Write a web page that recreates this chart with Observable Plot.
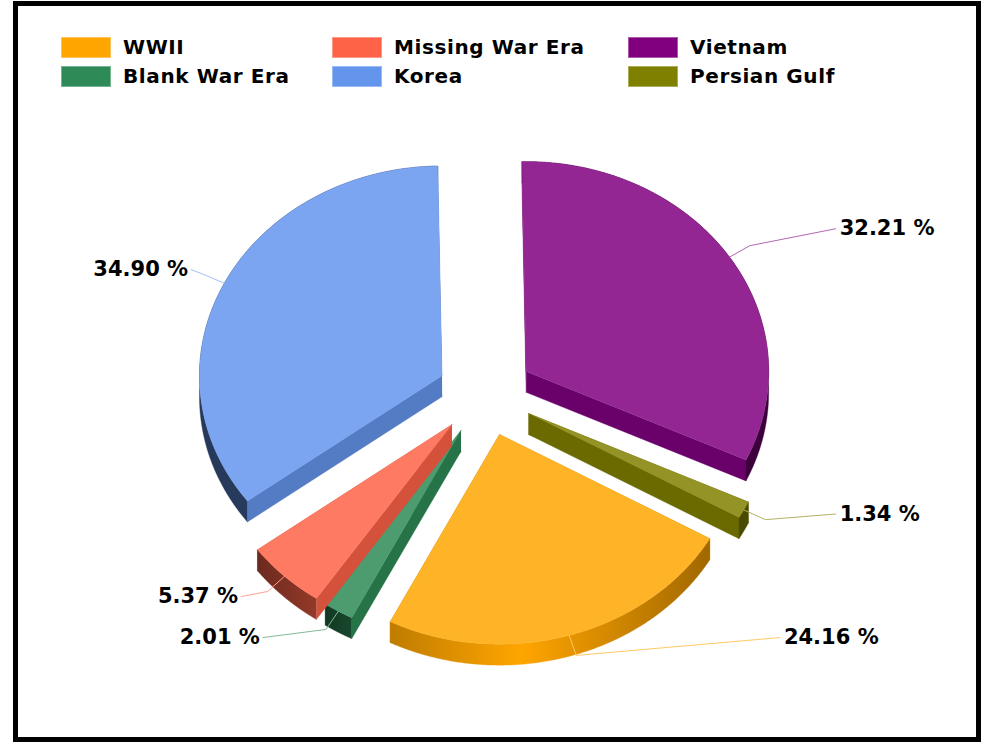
<!DOCTYPE html>
<html>
<head>
<meta charset="utf-8">
<script src="https://cdn.jsdelivr.net/npm/d3@7"></script>
<script src="https://cdn.jsdelivr.net/npm/@observablehq/plot@0.6"></script>
<style>
  html, body { margin: 0; padding: 0; background: #fff; }
  #frame { position: absolute; left: 13px; top: 1px; width: 968px; height: 741px; box-sizing: border-box;
           border: 5px solid #000; background: #fff; font-family: "DejaVu Sans", sans-serif; overflow: hidden; }
  #legend { display: grid; grid-template-columns: 271px 296px 300px; grid-auto-rows: 29px; grid-auto-flow: column;
            grid-template-rows: 29px 29px; padding: 31px 0 0 43px; height: 63px; box-sizing: content-box;
            font-size: 20px; font-weight: bold; color: #000; letter-spacing: 0.6px; }
  .item { display: flex; align-items: flex-start; }
  .item i { display: block; width: 50px; height: 21px; margin-right: 12px; box-sizing: border-box; border: 1px solid rgba(255,255,255,.35); }
  .item span { line-height: 21px; }
  svg { display: block; }
</style>
</head>
<body>
<div id="frame"><div id="legend"></div><div id="chart"></div></div>
<script>
// Data, clockwise from 12 o'clock
const categories = ["Vietnam", "Persian Gulf", "WWII", "Blank War Era", "Missing War Era", "Korea"];
const percents   = [32.21, 1.34, 24.16, 2.01, 5.37, 34.90];
const baseColors = ["#800080", "#808000", "#ffa500", "#2e8b57", "#ff6347", "#6495ed"];
const legendOrder = ["WWII", "Blank War Era", "Missing War Era", "Korea", "Vietnam", "Persian Gulf"];
// Where each percentage label sits, in pie-radius units
const labelX = [1.444, 1.444, 1.214, -0.918, -1.008, -1.214];
const labelY = [0.789, -0.571, -1.16, -1.16, -0.965, 0.594];
// Shading of the outer rim, as brightness factors left to right
const rimShades = [[.48, .48], [.58, .58], [.75, 1, .63], [.4, .52], [.42, .58], [.38, .44]];
const rimStops  = [[0, 1], [0, 1], [0, .41, 1], [0, 1], [0, 1], [0, 1]];

const explode = 0.2, depth = 0.1, startAngle = -1 * Math.PI / 180;
const shade = (c, k) => { const r = d3.rgb(c); return d3.rgb(r.r * k, r.g * k, r.b * k).formatHex(); };
const total = d3.sum(percents);
let cum = 0;
const slices = categories.map((name, i) => {
  const a0 = startAngle + cum / total * 2 * Math.PI; cum += percents[i];
  const a1 = startAngle + cum / total * 2 * Math.PI, mid = (a0 + a1) / 2;
  return {name, i, value: percents[i], a0, a1, mid, base: baseColors[i],
          cx: explode * Math.sin(mid), cy: explode * Math.cos(mid)};
});
const on = (s, a, r = 1, dy = 0) => ({x: s.cx + r * Math.sin(a), y: s.cy + r * Math.cos(a) + dy});
const arc = (s, dy) => d3.range(0, 241).map(t => on(s, s.a0 + (s.a1 - s.a0) * t / 240, 1, dy));
const topFace = s => [{x: s.cx, y: s.cy}, ...arc(s, 0)];
const wall = (s, a) => [{x: s.cx, y: s.cy}, on(s, a), on(s, a, 1, -depth), {x: s.cx, y: s.cy - depth}];
const rim = s => [...arc(s, 0), ...arc(s, -depth).reverse()];

d3.select("#legend").selectAll("div").data(legendOrder).join("div").attr("class", "item")
  .html(d => `<i style="background:${baseColors[categories.indexOf(d)]}"></i><span>${d}</span>`);

const face = (pts, fill) => Plot.line(pts, {x: "x", y: "y", fill, stroke: fill, strokeWidth: 0.4});
const gradients = () => {
  const ns = "http://www.w3.org/2000/svg";
  const defs = document.createElementNS(ns, "defs");
  slices.forEach(s => {
    const g = document.createElementNS(ns, "linearGradient");
    g.setAttribute("id", "rim" + s.i);
    rimShades[s.i].forEach((k, j) => {
      const stop = document.createElementNS(ns, "stop");
      stop.setAttribute("offset", rimStops[s.i][j]);
      stop.setAttribute("stop-color", shade(s.base, k));
      g.appendChild(stop);
    });
    defs.appendChild(g);
  });
  return defs;
};

const labels = slices.map(s => ({...s, lx: labelX[s.i], ly: labelY[s.i], text: s.value.toFixed(2) + " %"}));

const chart = Plot.plot({
  width: 958, height: 630, margin: 0,
  style: {background: "transparent", overflow: "visible"},
  x: {domain: [-1, 1], range: [224.5, 709.5], axis: null},
  y: {domain: [-1, 1], range: [503.5, 84], axis: null},
  marks: [
    gradients,
    slices.flatMap(s => [
      face(wall(s, s.a0), shade(s.base, .83)),
      face(wall(s, s.a1), shade(s.base, .83)),
      face(rim(s), `url(#rim${s.i})`),
      face(topFace(s), d3.interpolateRgb(s.base, "#fff")(.15))
    ]),
    labels.map(s => Plot.line(
      [on(s, s.mid), on(s, s.mid, 1.1, 0), {x: s.lx, y: s.ly}],
      {x: "x", y: "y", stroke: d3.interpolateRgb(s.base, "#fff")(.4), strokeWidth: 1})),
    Plot.text(labels.filter(d => d.lx > 0), {x: "lx", y: "ly", text: "text", textAnchor: "start", dx: 4,
      fontSize: 21, fontWeight: "bold", fontFamily: "DejaVu Sans", fill: "#000"}),
    Plot.text(labels.filter(d => d.lx < 0), {x: "lx", y: "ly", text: "text", textAnchor: "end", dx: -3,
      fontSize: 21, fontWeight: "bold", fontFamily: "DejaVu Sans", fill: "#000"})
  ]
});
document.getElementById("chart").appendChild(chart);
</script>
</body>
</html>
